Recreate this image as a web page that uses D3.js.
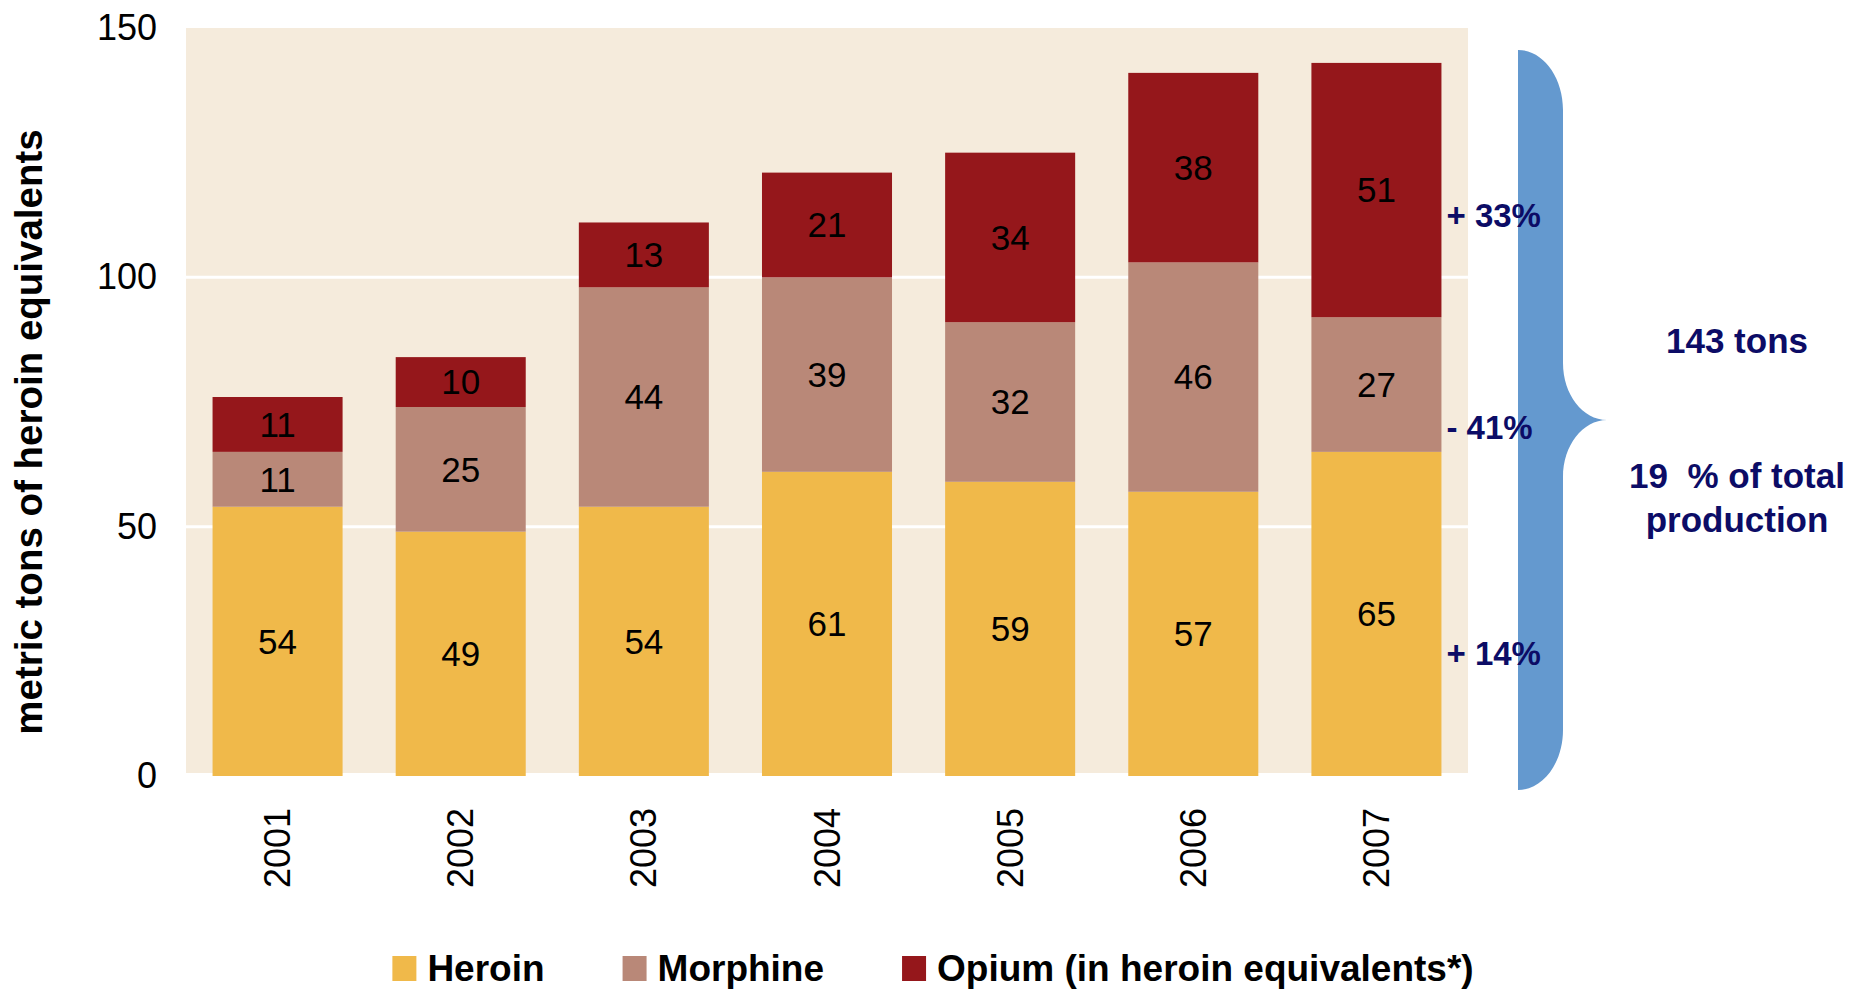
<!DOCTYPE html>
<html>
<head>
<meta charset="utf-8">
<title>Heroin, morphine and opium</title>
<script src="https://cdn.jsdelivr.net/npm/d3@7"></script>
<style>
  html, body { margin: 0; padding: 0; background: #fff; }
  svg { display: block; font-family: "Liberation Sans", Arial, Helvetica, sans-serif; }
</style>
</head>
<body>
<svg id="chart" width="1850" height="989"></svg>
<script>
const years = ["2001", "2002", "2003", "2004", "2005", "2006", "2007"];
const heroin = [54, 49, 54, 61, 59, 57, 65];
const morphine = [11, 25, 44, 39, 32, 46, 27];
const opium = [11, 10, 13, 21, 34, 38, 51];

const seriesKeys = ["heroin", "morphine", "opium"];
const seriesNames = ["Heroin", "Morphine", "Opium (in heroin equivalents*)"];
const seriesColors = ["#f0b94a", "#b98878", "#95171b"];

const yTicks = [0, 50, 100, 150];
const gridTicks = [50, 100];
// change 2001 -> 2007, one per series (bottom to top)
const changeLabels = ["+ 14%", "- 41%", "+ 33%"];
const summaryLines = ["143 tons", "19  % of total", "production"];
const yTitle = "metric tons of heroin equivalents";

class StackedChart {
  constructor() {
    this.svg = d3.select("#chart");
    this.rows = years.map((year, i) => ({
      year,
      heroin: heroin[i],
      morphine: morphine[i],
      opium: opium[i],
    }));
  }

  init() {
    this.setupScales();
    this.drawBackground();
    this.drawAxes();
    this.drawBars();
    this.drawAnnotations();
    this.drawLegend();
  }

  setupScales() {
    this.x = d3
      .scaleBand()
      .domain(years)
      .range([186, 1468])
      .paddingInner(0.29)
      .paddingOuter(0.145);

    this.y = d3.scaleLinear().domain([0, 150]).range([776, 28]);

    this.color = d3.scaleOrdinal().domain(seriesKeys).range(seriesColors);
  }

  drawBackground() {
    const [x0, x1] = this.x.range();
    this.svg
      .append("rect")
      .attr("x", x0)
      .attr("y", this.y(150))
      .attr("width", x1 - x0)
      .attr("height", this.y(0) - 3 - this.y(150))
      .attr("fill", "#f5ebdc");

    this.svg
      .append("g")
      .selectAll("line")
      .data(gridTicks)
      .join("line")
      .attr("x1", x0)
      .attr("x2", x1)
      .attr("y1", (d) => this.y(d))
      .attr("y2", (d) => this.y(d))
      .attr("stroke", "#fff")
      .attr("stroke-width", 3);
  }

  drawAxes() {
    const yAxis = this.svg
      .append("g")
      .attr("transform", `translate(${this.x.range()[0]},0)`)
      .call(d3.axisLeft(this.y).tickValues(yTicks).tickSize(0).tickPadding(29));
    yAxis.select(".domain").remove();
    yAxis
      .selectAll("text")
      .attr("font-family", null)
      .attr("font-size", 36)
      .attr("fill", "#000");

    const xAxis = this.svg
      .append("g")
      .attr("transform", `translate(0,${this.y(0)})`)
      .call(d3.axisBottom(this.x).tickSize(0));
    xAxis.select(".domain").remove();
    xAxis
      .selectAll("text")
      .attr("font-family", null)
      .attr("font-size", 36)
      .attr("fill", "#000")
      .attr("text-anchor", "end")
      .attr("transform", "rotate(-90)")
      .attr("x", -32)
      .attr("y", 0)
      .attr("dy", "0.35em");

    this.svg
      .append("text")
      .attr("transform", "translate(42,432) rotate(-90)")
      .attr("text-anchor", "middle")
      .attr("font-size", 38.5)
      .attr("font-weight", "bold")
      .text(yTitle);
  }

  drawBars() {
    const stacked = d3.stack().keys(seriesKeys)(this.rows);

    const layer = this.svg
      .append("g")
      .selectAll("g")
      .data(stacked)
      .join("g")
      .attr("fill", (d) => this.color(d.key));

    layer
      .selectAll("rect")
      .data((d) => d)
      .join("rect")
      .attr("x", (d) => this.x(d.data.year))
      .attr("y", (d) => this.y(d[1]))
      .attr("width", this.x.bandwidth())
      .attr("height", (d) => this.y(d[0]) - this.y(d[1]));

    layer
      .selectAll("text")
      .data((d) => d)
      .join("text")
      .attr("x", (d) => this.x(d.data.year) + this.x.bandwidth() / 2)
      .attr("y", (d) => this.y((d[0] + d[1]) / 2))
      .attr("dy", "0.35em")
      .attr("text-anchor", "middle")
      .attr("font-size", 35)
      .attr("fill", "#000")
      .text((d) => d[1] - d[0]);

    this.stacked = stacked;
  }

  drawAnnotations() {
    const navy = "#0c0c66";
    const last = years.length - 1;
    const labelX = this.x(years[last]) + this.x.bandwidth() + 5;

    // curly brace spanning the 2007 bar
    const top = this.y(d3.max(this.rows, (r) => r.heroin + r.morphine + r.opium)) - 13;
    const bottom = this.y(0) + 14;
    const mid = (top + bottom) / 2;
    const x0 = 1518;
    const x1 = x0 + 45;
    const x2 = x1 + 44;
    const k = 0.552;

    const p = d3.path();
    p.moveTo(x0, top);
    p.bezierCurveTo(x0 + 45 * k, top, x1, top + 60 - 60 * k, x1, top + 60);
    p.lineTo(x1, mid - 57);
    p.bezierCurveTo(x1, mid - 57 + 57 * k, x2 - 44 * k, mid, x2, mid);
    p.bezierCurveTo(x2 - 44 * k, mid, x1, mid + 57 - 57 * k, x1, mid + 57);
    p.lineTo(x1, bottom - 60);
    p.bezierCurveTo(x1, bottom - 60 + 60 * k, x0 + 45 * k, bottom, x0, bottom);
    p.closePath();

    this.svg.append("path").attr("d", p.toString()).attr("fill", "#6499cf");

    // labels sit a little below the middle of each 2007 segment
    const drop = [40, 43, 25];
    this.svg
      .append("g")
      .selectAll("text")
      .data(this.stacked)
      .join("text")
      .attr("x", labelX)
      .attr("y", (d, i) => this.y((d[last][0] + d[last][1]) / 2) + drop[i])
      .attr("dy", "0.35em")
      .attr("font-size", 33)
      .attr("font-weight", "bold")
      .attr("fill", navy)
      .text((d, i) => changeLabels[i]);

    const offsets = [-67, 68, 112];
    this.svg
      .append("g")
      .selectAll("text")
      .data(summaryLines)
      .join("text")
      .attr("x", 1737)
      .attr("y", (d, i) => mid + offsets[i])
      .attr("text-anchor", "middle")
      .attr("font-size", 35)
      .attr("font-weight", "bold")
      .attr("fill", navy)
      .style("white-space", "pre")
      .text((d) => d);
  }

  drawLegend() {
    const legend = this.svg.append("g");
    const items = legend
      .selectAll("g")
      .data(seriesNames)
      .join("g");

    items
      .append("rect")
      .attr("y", -25)
      .attr("width", 24)
      .attr("height", 25)
      .attr("fill", (d, i) => seriesColors[i]);

    items
      .append("text")
      .attr("x", 35)
      .attr("font-size", 37)
      .attr("font-weight", "bold")
      .text((d) => d);

    let cursor = 0;
    items.each(function () {
      const w = this.querySelector("text").getComputedTextLength() + 35;
      d3.select(this).attr("transform", `translate(${cursor},0)`);
      cursor += w + 78;
    });
    const total = cursor - 78;
    legend.attr("transform", `translate(${933 - total / 2},981)`);
  }
}

document.addEventListener("DOMContentLoaded", () => {
  const chart = new StackedChart();
  chart.init();
});
</script>
</body>
</html>
